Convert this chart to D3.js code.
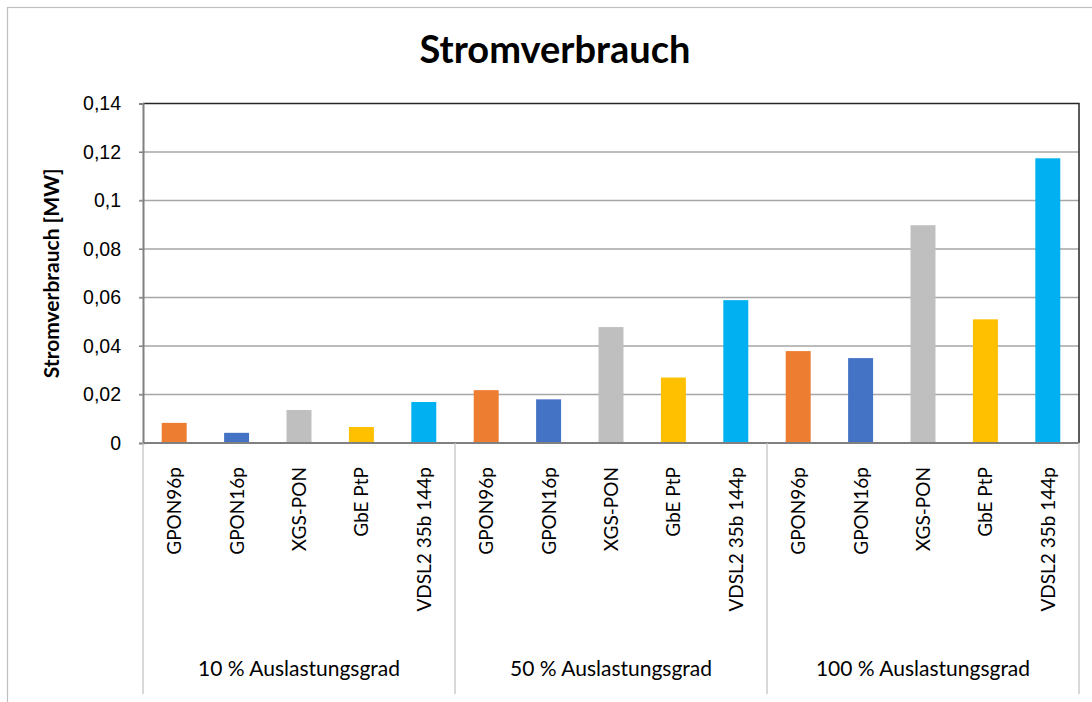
<!DOCTYPE html>
<html>
<head>
<meta charset="utf-8">
<script src="https://cdn.jsdelivr.net/npm/d3@7"></script>
<style>
  body { margin: 0; background: #fff; }
  svg { font-family: Lato, "Open Sans", sans-serif; }
</style>
</head>
<body>
<script>
// data
var groups = ['10 % Auslastungsgrad', '50 % Auslastungsgrad', '100 % Auslastungsgrad'];
var techs = ['GPON96p', 'GPON16p', 'XGS-PON', 'GbE PtP', 'VDSL2 35b 144p'];
var colors = ['#ED7D31', '#4472C4', '#BFBFBF', '#FFC000', '#00B0F0'];
var values10 = [0.0083, 0.0042, 0.0136, 0.0066, 0.0169];
var values50 = [0.0218, 0.0180, 0.0478, 0.0270, 0.0589];
var values100 = [0.0379, 0.0350, 0.0898, 0.0510, 0.1174];
var yTicks = [0, 0.02, 0.04, 0.06, 0.08, 0.1, 0.12, 0.14];

var allValues = [values10, values50, values100];

var W = 1092, H = 702;
var pLeft = 143, pRight = 1079, pTop = 103.5, pBottom = 443;

var svg = d3.select('body').append('svg')
  .attr('width', W)
  .attr('height', H);

// outer chart border
svg.append('rect')
  .attr('x', 7.5).attr('y', 7.5)
  .attr('width', W + 20).attr('height', H + 20)
  .attr('fill', '#fff')
  .attr('stroke', '#BFBFBF')
  .attr('stroke-width', 1.2);

var yScale = d3.scaleLinear().domain([0, 0.14]).range([pBottom, pTop]);
var xGroup = d3.scaleBand().domain(groups).range([pLeft, pRight]);
var xTech = d3.scaleBand().domain(techs).range([0, xGroup.bandwidth()])
  .paddingInner(0.6)
  .paddingOuter(0.3);

// gridlines
svg.append('g')
  .selectAll('line')
  .data(yTicks.filter(function(t) { return t > 0 && t < 0.14; }))
  .enter().append('line')
  .attr('x1', pLeft - 4).attr('x2', pRight)
  .attr('y1', function(d) { return yScale(d); })
  .attr('y2', function(d) { return yScale(d); })
  .attr('stroke', '#A6A6A6')
  .attr('stroke-width', 1.3);

// plot area top/right border
svg.append('path')
  .attr('d', 'M' + pLeft + ',' + pTop + 'H' + pRight + 'V' + pBottom)
  .attr('fill', 'none')
  .attr('stroke', '#262626')
  .attr('stroke-width', 1.5);

// bars
var data = [];
groups.forEach(function(g, gi) {
  techs.forEach(function(t, ti) {
    data.push({ group: g, tech: t, value: allValues[gi][ti], color: colors[ti] });
  });
});

svg.append('g')
  .selectAll('rect')
  .data(data)
  .enter().append('rect')
  .attr('x', function(d) { return xGroup(d.group) + xTech(d.tech); })
  .attr('y', function(d) { return yScale(d.value); })
  .attr('width', xTech.bandwidth())
  .attr('height', function(d) { return yScale(0) - yScale(d.value); })
  .attr('fill', function(d) { return d.color; });

// y axis
var yAxis = d3.axisLeft(yScale)
  .tickValues(yTicks)
  .tickSize(4)
  .tickFormat(function(d) { return d3.format('')(d).replace('.', ','); });

var yg = svg.append('g')
  .attr('transform', 'translate(' + pLeft + ',0)')
  .call(yAxis);
yg.select('.domain').attr('stroke', '#808080').attr('stroke-width', 2);
yg.selectAll('.tick line').attr('stroke', '#808080');
yg.selectAll('.tick text')
  .attr('x', -22)
  .attr('font-size', 19.5)
  .attr('fill', '#000');

// x axis line
svg.append('line')
  .attr('x1', pLeft).attr('x2', pRight)
  .attr('y1', pBottom).attr('y2', pBottom)
  .attr('stroke', '#808080')
  .attr('stroke-width', 2);

// group separators
svg.append('g')
  .selectAll('line')
  .data(groups.map(function(g) { return xGroup(g); }).concat([pRight]))
  .enter().append('line')
  .attr('x1', function(d) { return d; })
  .attr('x2', function(d) { return d; })
  .attr('y1', pBottom)
  .attr('y2', 694)
  .attr('stroke', '#BFBFBF')
  .attr('stroke-width', 1.2);

// category labels
svg.append('g')
  .selectAll('text')
  .data(data)
  .enter().append('text')
  .attr('transform', function(d) {
    var cx = xGroup(d.group) + xTech(d.tech) + xTech.bandwidth() / 2;
    return 'translate(' + (cx + 7) + ',467) rotate(-90)';
  })
  .attr('text-anchor', 'end')
  .attr('font-size', 19)
  .attr('fill', '#000')
  .text(function(d) { return d.tech; });

// group labels
svg.append('g')
  .selectAll('text')
  .data(groups)
  .enter().append('text')
  .attr('x', function(g) { return xGroup(g) + xGroup.bandwidth() / 2; })
  .attr('y', 676)
  .attr('text-anchor', 'middle')
  .attr('font-size', 21)
  .attr('fill', '#000')
  .text(function(g) { return g; });

// title
svg.append('text')
  .attr('x', 555)
  .attr('y', 63)
  .attr('text-anchor', 'middle')
  .attr('font-size', 38)
  .attr('font-weight', 'bold')
  .attr('fill', '#000')
  .text('Stromverbrauch');

// y axis title
svg.append('text')
  .attr('transform', 'translate(59,' + ((pTop + pBottom) / 2) + ') rotate(-90)')
  .attr('text-anchor', 'middle')
  .attr('font-size', 21)
  .attr('font-weight', 'bold')
  .attr('fill', '#000')
  .text('Stromverbrauch [MW]');
</script>
</body>
</html>
